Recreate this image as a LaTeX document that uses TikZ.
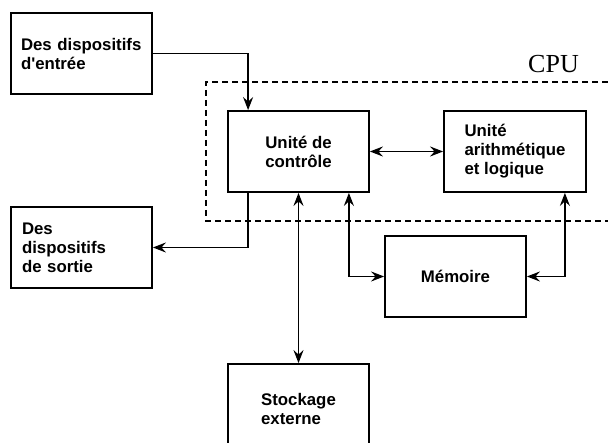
\documentclass[tikz,border=0pt]{standalone}
\usepackage{fontspec}
\setmainfont{Liberation Sans}
\newfontfamily\cpufont{Liberation Serif}
\usetikzlibrary{arrows.meta}

\tikzset{
  unit/.style={draw, line width=1.8pt, minimum width=141pt, minimum height=81pt,
    inner sep=0pt, align=left, font=\bfseries\fontsize{16.8}{19}\selectfont},
  flow/.style={line width=1.8pt, -{Stealth[length=13pt,width=10pt,inset=4.5pt]}},
  duplex/.style={line width=1.8pt, {Stealth[length=13pt,width=10pt,inset=4.5pt]}-{Stealth[length=13pt,width=10pt,inset=4.5pt]}},
  cpubox/.style={line width=1.5pt, dash pattern=on 6pt off 4pt}
}

\begin{document}
\begin{tikzpicture}[x=1pt, y=-1pt]
  \useasboundingbox (0,0) rectangle (608,443);

  % processor boundary (open on the right)
  \draw[cpubox] (608,82) -- (206,82) -- (206,221) -- (608,221);
  \node[font=\cpufont\fontsize{26}{30}\selectfont, anchor=base west, inner sep=0pt] (cpulabel) at (528,72.5) {CPU};

  % functional units
  \node[unit, text width=121pt] (in)   at (81.5,53.5)  {Des dispositifs\\d\textquotesingle entrée};
  \node[unit, text width=119pt] (out)  at (81.5,247.5) {Des\\dispositifs\\de sortie};
  \node[unit] (ctrl) at (298.5,151.5) {Unité de\\contrôle};
  \node[unit, minimum width=142pt] (alu) at (515,151.5) {Unité\\arithmétique\\et logique};
  \node[unit] (mem)  at (455.5,276.5) {Mémoire};
  \node[unit, minimum height=90pt] (sto) at (298.5,409) {Stockage\\externe};

  % data paths
  \draw[flow] (in.east) -| ([xshift=21pt]ctrl.north west);
  \draw[flow] ([xshift=21pt]ctrl.south west) |- (out.east);
  \draw[duplex] (ctrl.east) -- (alu.west);
  \draw[duplex] (ctrl.south) -- (sto.north);
  \draw[duplex] ([xshift=-21pt]ctrl.south east) |- (mem.west);
  \draw[duplex] ([xshift=-22pt]alu.south east) |- (mem.east);
\end{tikzpicture}
\end{document}
